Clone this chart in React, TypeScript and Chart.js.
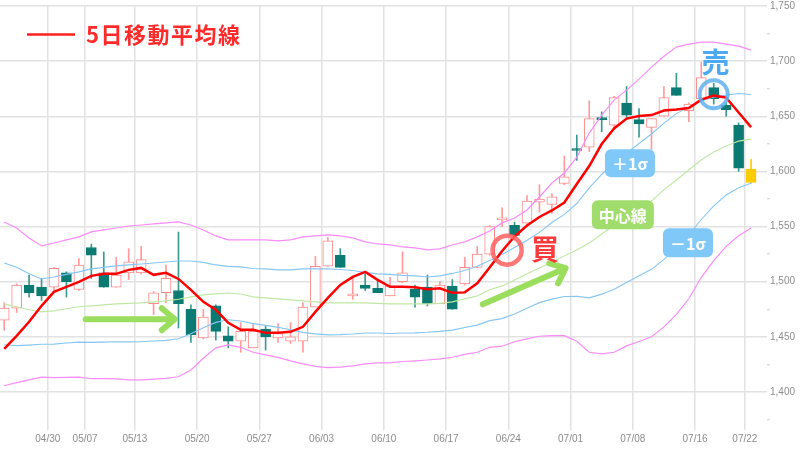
import React, { useEffect, useRef } from 'react';
import { Chart, registerables } from 'chart.js';

Chart.register(...registerables);

// ---- data ----
const dates = ['04/23','04/24','04/25','04/26','04/30','05/01','05/02','05/07','05/08','05/09','05/10','05/13','05/14','05/15','05/16','05/17','05/20','05/21','05/22','05/23','05/24','05/27','05/28','05/29','05/30','05/31','06/03','06/04','06/05','06/06','06/07','06/10','06/11','06/12','06/13','06/14','06/17','06/18','06/19','06/20','06/21','06/24','06/25','06/26','06/27','06/28','07/01','07/02','07/03','07/04','07/05','07/08','07/09','07/10','07/11','07/12','07/16','07/17','07/18','07/19','07/22'];

const tickDates = ['04/30','05/07','05/13','05/20','05/27','06/03','06/10','06/17','06/24','07/01','07/08','07/16','07/22'];

const open = [1465,1476,1497,1495,1495,1508,1493,1531,1508,1495,1508,1508,1480,1490,1492,1475,1449,1478,1451,1446,1440,1457,1449,1446,1446,1477,1514,1524,1487,1497,1494,1487,1500,1493,1495,1480,1496,1498,1513,1525,1556,1551,1553,1572,1570,1589,1620,1622,1648,1642,1662,1647,1640,1650,1676,1655,1666,1676,1660,1642,1602];
const high = [1481,1498,1506,1503,1513,1509,1521,1534,1527,1522,1530,1532,1491,1515,1545,1479,1475,1479,1459,1463,1462,1460,1462,1463,1481,1523,1540,1530,1505,1507,1502,1504,1527,1497,1506,1500,1502,1522,1532,1551,1567,1554,1578,1588,1580,1614,1633,1664,1654,1668,1677,1657,1648,1677,1689,1662,1699,1680,1662,1644,1611];
const low = [1456,1472,1486,1483,1492,1486,1492,1503,1495,1495,1502,1507,1470,1481,1458,1445,1448,1447,1440,1436,1440,1438,1445,1444,1436,1477,1514,1513,1484,1492,1490,1487,1499,1477,1478,1480,1475,1497,1513,1524,1550,1542,1553,1563,1562,1588,1610,1618,1636,1639,1649,1631,1620,1650,1669,1645,1666,1661,1650,1600,1589];
const close = [1476,1497,1490,1487,1512,1500,1515,1524,1495,1506,1518,1520,1490,1503,1480,1452,1468,1455,1446,1455,1455,1450,1453,1450,1477,1514,1537,1513,1489,1494,1490,1496,1508,1486,1480,1497,1475,1513,1525,1550,1557,1542,1573,1575,1577,1595,1619,1648,1647,1667,1651,1643,1648,1667,1669,1661,1685,1666,1656,1603,1590];

const ma5 = [1439.1,1450.9,1463.6,1478.1,1490.8,1495.3,1499.8,1505.3,1507.1,1507.1,1510.7,1512.5,1506.2,1508,1502.5,1492.6,1481.7,1474.5,1462.7,1456.3,1456.3,1453.6,1453.6,1454.5,1459.1,1472.6,1485.3,1497.1,1504.3,1508.9,1501.6,1495.3,1495.3,1494.9,1493.1,1494,1489.9,1490.3,1498.5,1512.9,1527.9,1541,1551,1558.7,1564.6,1571.8,1588.6,1604.9,1624.8,1638.9,1647.9,1650.2,1651.1,1655.2,1656.1,1657.4,1665.1,1668.7,1666.9,1653.4,1640.2];

const bbUpper2 = [1554.2,1548.7,1539.7,1532.4,1535.1,1537.9,1540.6,1545.1,1546.9,1548.7,1550.5,1551.4,1552.4,1553.3,1554.2,1551.4,1546.9,1541.5,1537.9,1537.9,1537.9,1537.9,1537,1537.9,1540.6,1541.5,1542.4,1541.5,1539.7,1536.1,1534.2,1533.3,1531.5,1530.6,1528.8,1529.7,1533.3,1536.1,1540.6,1546,1553.3,1557.8,1565,1576.8,1589.5,1598.6,1613,1634.8,1651.1,1664.7,1673.7,1683.7,1694.6,1704.5,1712.7,1715.4,1717.2,1717.2,1715.4,1713.6,1710];
const bbUpper1 = [1517,1513,1507.1,1502.5,1504.3,1506.6,1508.9,1511.6,1513,1514.3,1515.2,1516.1,1517,1517.9,1518.8,1518.8,1517.5,1515.2,1513.9,1513.4,1512,1511.6,1510.7,1510.7,1511.6,1511.6,1511.6,1511.1,1510.2,1508.4,1507.1,1506.6,1505.7,1505.3,1504.3,1505.3,1507.5,1510.2,1513.9,1519.3,1524.7,1531,1537.5,1544.7,1553.7,1561,1570.9,1585,1597.2,1608.1,1616.7,1625.3,1633.9,1643.8,1652.4,1658.3,1663.8,1667.4,1669.2,1670.6,1669.7];
const bbMid = [1479.9,1477.2,1474.5,1472.6,1473.5,1475.4,1477.2,1478.1,1479,1479.9,1480.3,1480.8,1481.7,1482.6,1484,1486.2,1488,1488.9,1489.8,1488.9,1486.2,1485.3,1484.4,1483.5,1482.6,1481.7,1480.8,1480.8,1480.8,1480.8,1480.3,1479.9,1479.9,1479.9,1479.9,1480.3,1481.7,1484.4,1487.1,1492.6,1496.2,1501.6,1507.1,1512.5,1517.9,1523.4,1528.8,1535.1,1543.3,1551.4,1559.6,1566.8,1573.2,1583.2,1592.2,1601.3,1610.3,1617.6,1623,1627.5,1629.3];
const bbLower1 = [1442.8,1442,1442.5,1443.2,1443.4,1444.4,1445.2,1445,1445.2,1445.5,1445.4,1445.5,1446.2,1446.8,1448.2,1452.7,1458.3,1463.1,1465.5,1464.4,1462,1460.4,1458.6,1456.3,1454,1452.7,1451.8,1452,1452.5,1453.4,1453.4,1453,1453.4,1453.6,1454.1,1454.9,1456.1,1458.4,1460.6,1464.7,1466.5,1470.6,1476,1481,1484.2,1486.5,1486.7,1485.3,1488.7,1493.2,1499.3,1505.4,1511.2,1520.2,1530.4,1542.5,1556.4,1568.7,1578.6,1585.1,1589.2];
const bbLower2 = [1405.6,1408.5,1411,1413.5,1413,1413.3,1413.5,1412,1412,1411.8,1411,1411,1411.7,1412.4,1413.8,1420,1430.5,1440,1442.7,1440.5,1436,1433.6,1431.4,1428.2,1425.5,1423.2,1422,1422.6,1423.7,1425.5,1426.4,1426.4,1427.6,1428.2,1429,1430,1431.5,1434,1436,1440.5,1441.5,1445.5,1448.2,1450.5,1451,1451,1446,1436,1434.6,1436,1441.8,1445.8,1450,1459,1470.3,1484.5,1504,1519,1532,1541.6,1548.6];

const yMajorTicks = [1400, 1450, 1500, 1550, 1600, 1650, 1700, 1750];
const yMinorStep = 12.5;

// annotation anchors (index, price)
const buyMark = { i: 40.4, v: 1528.6 };
const buyText = { i: 43.45, v: 1529.5 };
const sellMark = { i: 57.0, v: 1670 };
const sellText = { i: 57.15, v: 1699 };
const arrowFlat = { i1: 6.55, v1: 1466, i2: 13.7, v2: 1466 };
const arrowUp = { i1: 38.45, v1: 1479.6, i2: 45.1, v2: 1512.3 };
const tagPlus1 = { i: 50.27, v: 1607.5, text: '＋1σ' };
const tagMid = { i: 49.7, v: 1560.8, text: '中心線' };
const tagMinus1 = { i: 54.93, v: 1535.4, text: '－1σ' };

const TEAL = '#0b7a72';
const PINK = '#ff8a8a';
const GRID = '#e2e2e2';
const TICK_TEXT = '#8c8c8c';
const JP = '"Noto Sans CJK JP", "Noto Sans", sans-serif';

export default function App() {
  const canvasRef = useRef<HTMLCanvasElement | null>(null);

  useEffect(() => {
    document.body.style.margin = '0';
    const canvas = canvasRef.current;
    if (!canvas) return;
    const n = dates.length;
    const last = n - 1;
    const idx = dates.map((_, i) => i);
    const up = (i: number) => close[i] >= open[i];

    const bodyFill = idx.map(i => (i === last ? '#ffcc00' : up(i) ? '#ffffff' : TEAL));
    const bodyBorder = idx.map(i => (i === last ? '#f7c600' : up(i) ? PINK : TEAL));
    const wickColor = idx.map(i => (i === last ? '#ffcc00' : up(i) ? '#ff9a9a' : '#3a9a92'));

    const lineDs = (label: string, arr: number[], color: string, width: number, order: number) => ({
      type: 'line' as const,
      label,
      data: arr.map((v, i) => ({ x: i, y: v })),
      borderColor: color,
      backgroundColor: color,
      borderWidth: width,
      pointRadius: 0,
      tension: 0,
      fill: false,
      order,
    });

    const annotations = {
      id: 'annotations',
      afterDatasetsDraw(chart: any) {
        const { ctx, scales } = chart;
        const xs = scales.x, ys = scales.y;
        const px = (i: number) => xs.getPixelForValue(i);
        const py = (v: number) => ys.getPixelForValue(v);
        ctx.save();

        // arrows
        const arrow = (a: any) => {
          const x1 = px(a.i1), y1 = py(a.v1), x2 = px(a.i2), y2 = py(a.v2);
          const ang = Math.atan2(y2 - y1, x2 - x1);
          ctx.strokeStyle = '#9bdd5c';
          ctx.lineWidth = 6;
          ctx.lineCap = 'round';
          ctx.lineJoin = 'round';
          ctx.beginPath();
          ctx.moveTo(x1, y1);
          ctx.lineTo(x2 - 2 * Math.cos(ang), y2 - 2 * Math.sin(ang));
          ctx.stroke();
          const L = 17, spread = 0.7;
          ctx.beginPath();
          ctx.moveTo(x2 + L * Math.cos(ang + Math.PI - spread), y2 + L * Math.sin(ang + Math.PI - spread));
          ctx.lineTo(x2, y2);
          ctx.lineTo(x2 + L * Math.cos(ang + Math.PI + spread), y2 + L * Math.sin(ang + Math.PI + spread));
          ctx.stroke();
        };
        arrow(arrowFlat);
        arrow(arrowUp);

        // rings
        const ring = (m: any, r: number, color: string, w: number) => {
          ctx.strokeStyle = color;
          ctx.lineWidth = w;
          ctx.beginPath();
          ctx.arc(px(m.i), py(m.v), r, 0, Math.PI * 2);
          ctx.stroke();
        };
        ring(buyMark, 14.5, 'rgba(255,95,95,0.85)', 4.5);
        ring(sellMark, 14, 'rgba(95,178,240,0.85)', 4);

        // signal texts
        ctx.textAlign = 'center';
        ctx.textBaseline = 'middle';
        ctx.font = `bold 28px ${JP}`;
        ctx.fillStyle = '#ff3a3a';
        ctx.fillText('買', px(buyText.i), py(buyText.v));
        ctx.fillStyle = '#4eaaf0';
        ctx.fillText('売', px(sellText.i), py(sellText.v));

        // band tags
        const tag = (t: any, w: number, h: number, color: string) => {
          const cx = px(t.i), cy = py(t.v);
          ctx.fillStyle = color;
          ctx.beginPath();
          (ctx as any).roundRect(cx - w / 2, cy - h / 2, w, h, 6);
          ctx.fill();
          ctx.fillStyle = '#ffffff';
          ctx.font = `bold 16px ${JP}`;
          ctx.fillText(t.text, cx, cy + 1);
        };
        tag(tagPlus1, 50, 28, '#7fc8f7');
        tag(tagMid, 62, 29, '#a0dd6c');
        tag(tagMinus1, 50, 29, '#7fc8f7');

        // legend
        ctx.strokeStyle = '#ff2020';
        ctx.lineWidth = 2.5;
        ctx.lineCap = 'butt';
        ctx.beginPath();
        ctx.moveTo(27, 34.5);
        ctx.lineTo(75, 34.5);
        ctx.stroke();
        ctx.textAlign = 'left';
        ctx.fillStyle = '#ff2b2b';
        ctx.font = `bold 22px ${JP}`;
        try { (ctx as any).letterSpacing = '1.5px'; } catch (e) {}
        ctx.fillText('5日移動平均線', 86, 35);
        try { (ctx as any).letterSpacing = '0px'; } catch (e) {}

        ctx.restore();
      },
    };

    const chart = new Chart(canvas, {
      type: 'bar',
      data: {
        datasets: [
          lineDs('5日移動平均線', ma5, '#ff0000', 2.5, 0),
          lineDs('+2σ', bbUpper2, '#f98cf9', 1.2, 1),
          lineDs('+1σ', bbUpper1, '#86c6f4', 1.1, 1),
          lineDs('中心線', bbMid, '#bfe8a4', 1.1, 1),
          lineDs('-1σ', bbLower1, '#86c6f4', 1.1, 1),
          lineDs('-2σ', bbLower2, '#f98cf9', 1.2, 1),
          {
            type: 'bar' as const,
            label: 'body',
            data: idx.map(i => ({ x: i, y: [open[i], close[i]] })),
            backgroundColor: bodyFill,
            borderColor: bodyBorder,
            borderWidth: 1,
            borderSkipped: false,
            barThickness: 10,
            minBarLength: 2,
            grouped: false,
            order: 2,
          },
          {
            type: 'bar' as const,
            label: 'wick',
            data: idx.map(i => ({ x: i, y: [low[i], high[i]] })),
            backgroundColor: wickColor,
            borderWidth: 0,
            barThickness: 1,
            grouped: false,
            order: 3,
          },
        ] as any,
      },
      options: {
        responsive: false,
        animation: false,
        layout: { padding: 0 },
        plugins: { legend: { display: false }, tooltip: { enabled: false } },
        scales: {
          x: {
            type: 'linear',
            min: -0.3374,
            max: 61.28,
            offset: false,
            afterBuildTicks: (s: any) => {
              s.ticks = tickDates.map(d => ({ value: dates.indexOf(d) - 0.5 }));
            },
            afterFit: (s: any) => { s.height = 20; },
            ticks: {
              autoSkip: false,
              maxRotation: 0,
              padding: 3,
              color: TICK_TEXT,
              font: { family: '"Liberation Sans", Arial, sans-serif', size: 10 },
              callback: (v: any) => dates[Math.round(Number(v) + 0.5)] ?? '',
            },
            grid: { color: GRID, lineWidth: 1.5, drawTicks: false, offset: false },
            border: { display: false },
          },
          y: {
            type: 'linear',
            position: 'right',
            min: 1365.5,
            max: 1750,
            afterBuildTicks: (s: any) => {
              const t: any[] = [];
              yMajorTicks.forEach(m => {
                for (let k = 3; k >= 1; k--) t.push({ value: m - k * yMinorStep });
                t.push({ value: m });
              });
              s.ticks = t.filter(o => o.value >= 1365.5);
            },
            afterFit: (s: any) => { s.width = 33; },
            ticks: {
              padding: 0,
              color: TICK_TEXT,
              font: { family: '"Liberation Sans", Arial, sans-serif', size: 10 },
              callback: (v: any) => (Number(v) % 50 === 0 ? Number(v).toLocaleString('en-US') : ''),
            },
            grid: {
              color: (c: any) => (c.tick && c.tick.value % 50 === 0 ? GRID : 'rgba(0,0,0,0)'),
              lineWidth: 1.5,
              drawTicks: true,
              tickLength: 3,
              tickWidth: 1,
              tickColor: (c: any) => (c.tick && c.tick.value % 50 !== 0 ? '#cccccc' : 'rgba(0,0,0,0)'),
            },
            border: { display: false },
          },
        },
      } as any,
      plugins: [annotations],
    });

    return () => chart.destroy();
  }, []);

  return (
    <div style={{ position: 'relative', width: 800, height: 450, overflow: 'hidden', background: '#fff' }}>
      <canvas ref={canvasRef} width={800} height={450} style={{ display: 'block', width: 800, height: 450 }} />
    </div>
  );
}
